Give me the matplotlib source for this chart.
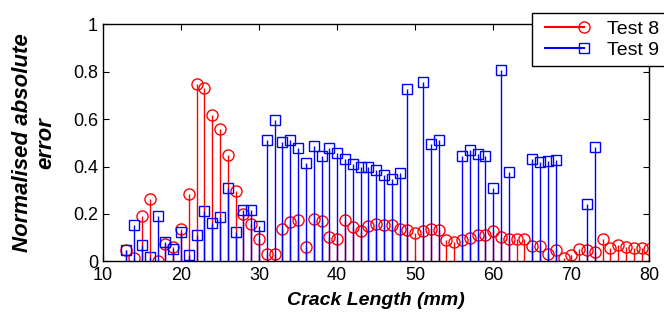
import numpy as np
import matplotlib.pyplot as plt
from matplotlib.lines import Line2D
from matplotlib.legend_handler import HandlerLine2D

plt.rcParams['font.family'] = ['Liberation Sans', 'DejaVu Sans']

# Test 8: crack length (mm) and normalised absolute error
crack8 = [13, 14, 15, 16, 17, 18, 19, 20, 21, 22, 23, 24, 25, 26, 27, 28, 29, 30,
          31, 32, 33, 34, 35, 36, 37, 38, 39, 40, 41, 42, 43, 44, 45, 46, 47, 48,
          49, 50, 51, 52, 53, 54, 55, 56, 57, 58, 59, 60, 61, 62, 63, 64, 65, 66,
          67, 68, 69, 70, 71, 72, 73, 74, 75, 76, 77, 78, 79, 80]
err8 = [0.050, 0.014, 0.191, 0.262, 0.002, 0.072, 0.060, 0.135, 0.286, 0.750,
        0.733, 0.619, 0.560, 0.449, 0.298, 0.201, 0.159, 0.094, 0.030, 0.030,
        0.135, 0.168, 0.173, 0.062, 0.180, 0.171, 0.103, 0.096, 0.176, 0.145,
        0.127, 0.148, 0.158, 0.155, 0.155, 0.135, 0.134, 0.119, 0.127, 0.135,
        0.131, 0.090, 0.080, 0.090, 0.098, 0.110, 0.112, 0.127, 0.103, 0.093,
        0.096, 0.096, 0.065, 0.065, 0.032, 0.046, 0.016, 0.027, 0.051, 0.049,
        0.039, 0.094, 0.056, 0.070, 0.062, 0.058, 0.055, 0.052]

# Test 9
crack9 = [13, 14, 15, 16, 17, 18, 19, 20, 21, 22, 23, 24, 25, 26, 27, 28, 29, 30,
          31, 32, 33, 34, 35, 36, 37, 38, 39, 40, 41, 42, 43, 44, 45, 46, 47, 48,
          49, 51, 52, 53, 56, 57, 58, 59, 60, 61, 62, 65, 66, 67, 68, 72, 73]
err9 = [0.050, 0.153, 0.067, 0.018, 0.191, 0.082, 0.052, 0.124, 0.027, 0.110,
        0.211, 0.163, 0.187, 0.311, 0.124, 0.217, 0.218, 0.151, 0.512, 0.598,
        0.502, 0.511, 0.480, 0.416, 0.487, 0.446, 0.479, 0.459, 0.434, 0.409,
        0.398, 0.400, 0.386, 0.366, 0.349, 0.373, 0.728, 0.756, 0.494, 0.512,
        0.446, 0.469, 0.453, 0.446, 0.309, 0.807, 0.377, 0.432, 0.419, 0.423,
        0.426, 0.242, 0.483]


class EndMarkerHandler(HandlerLine2D):
    # line across the handle, marker only at its right end
    def create_artists(self, *args, **kwargs):
        arts = super().create_artists(*args, **kwargs)
        for a in arts:
            if a.get_marker() not in (None, 'None', ''):
                a.set_markevery([len(a.get_xdata()) - 1])
        return arts


fig = plt.figure(figsize=(6.64, 3.13), dpi=100)
ax = fig.add_axes([0.155, 0.165, 0.823, 0.757])

m8, s8, b8 = ax.stem(crack8, err8, linefmt='r-', markerfmt='ro', basefmt='k-')
m8.set_markerfacecolor('none'); m8.set_markersize(8); m8.set_markeredgewidth(1)
s8.set_linewidth(1.0)
b8.set_visible(False)

m9, s9, b9 = ax.stem(crack9, err9, linefmt='b-', markerfmt='bs', basefmt='k-')
m9.set_markerfacecolor('none'); m9.set_markersize(6.5); m9.set_markeredgewidth(1)
s9.set_linewidth(1.0)
b9.set_visible(False)

ax.set_xlim(10, 80)
ax.set_ylim(0, 1)
ax.set_xticks([10, 20, 30, 40, 50, 60, 70, 80])
ax.set_yticks([0, 0.2, 0.4, 0.6, 0.8, 1])
ax.set_yticklabels(['0', '0.2', '0.4', '0.6', '0.8', '1'])
ax.tick_params(direction='in', top=True, right=True, labelsize=13, length=4)
ax.tick_params(axis='x', pad=4)
for sp in ax.spines.values():
    sp.set_linewidth(1.0)

ax.set_xlabel('Crack Length (mm)', fontsize=14, fontweight='bold', style='italic', labelpad=6)
ax.set_ylabel('Normalised absolute\nerror', fontsize=16, fontweight='bold', style='italic',
              labelpad=12, linespacing=1.15)

h8 = Line2D([0], [0], color='r', marker='o', markerfacecolor='none', markersize=8)
h9 = Line2D([0], [0], color='b', marker='s', markerfacecolor='none', markersize=6.5)
leg = fig.legend([h8, h9], ['Test 8', 'Test 9'], loc='upper left',
                 bbox_to_anchor=(0.8017, 0.9575), fontsize=14, numpoints=2,
                 handler_map={Line2D: EndMarkerHandler()},
                 fancybox=False, framealpha=1, edgecolor='k', handlelength=2.61,
                 handletextpad=0.88, borderpad=0.35, labelspacing=0.2,
                 borderaxespad=0)
leg.get_frame().set_linewidth(1.0)

plt.savefig('out.png', dpi=100)
